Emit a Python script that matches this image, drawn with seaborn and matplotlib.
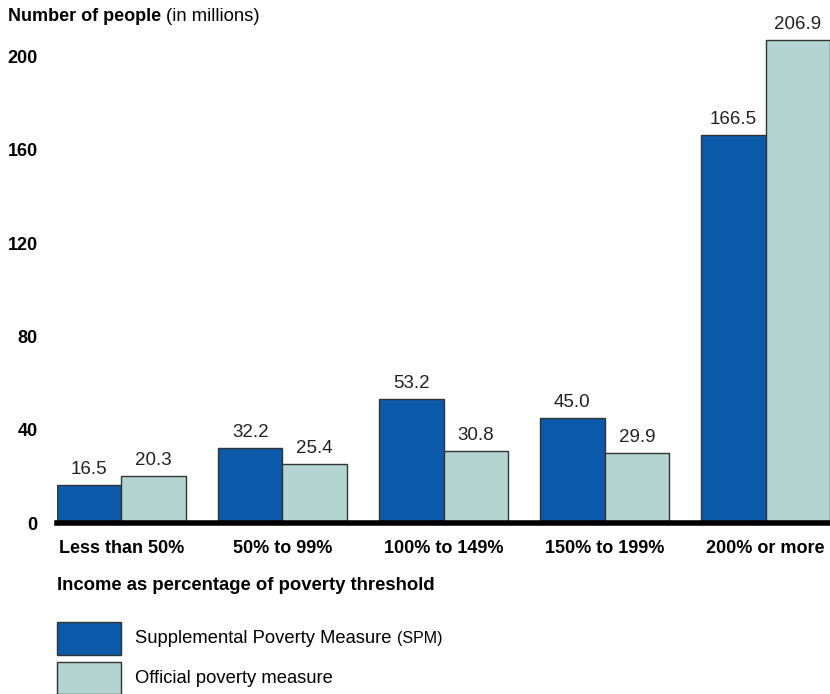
import matplotlib
matplotlib.use("Agg")
import matplotlib.pyplot as plt
from matplotlib.patches import Rectangle
import seaborn as sns
import pandas as pd

categories = ["Less than 50%", "50% to 99%", "100% to 149%", "150% to 199%", "200% or more"]
spm_values = [16.5, 32.2, 53.2, 45.0, 166.5]
official_values = [20.3, 25.4, 30.8, 29.9, 206.9]
series_names = ["Supplemental Poverty Measure", "Official poverty measure"]
y_ticks = [0, 40, 80, 120, 160, 200]

SPM_COLOR = "#0B5AAA"
OFF_COLOR = "#B3D4D1"
EDGE = "#333333"
FS = 13

sns.set_theme(style="white")
plt.rcParams["font.family"] = ["Liberation Sans", "DejaVu Sans"]
plt.rcParams["text.color"] = "black"
plt.rcParams["xtick.color"] = "black"
plt.rcParams["ytick.color"] = "black"

df = pd.DataFrame({
    "category": categories * 2,
    "value": spm_values + official_values,
    "measure": [series_names[0]] * len(categories) + [series_names[1]] * len(categories),
})

W, H = 830, 694
fig = plt.figure(figsize=(W / 100, H / 100), dpi=100)
ax = fig.add_axes([57 / W, (H - 523) / H, (W - 57) / W, (523 - 33) / H])

sns.barplot(
    data=df, x="category", y="value", hue="measure", order=categories,
    hue_order=series_names, palette=[SPM_COLOR, OFF_COLOR],
    edgecolor=EDGE, linewidth=1.0, width=0.8, saturation=1, ax=ax,
    legend=False,
)

for cont in ax.containers:
    ax.bar_label(cont, fmt="%.1f", padding=5, fontsize=13.5, color="#222222",
                 clip_on=False)

ax.set_xlim(-0.4, len(categories) - 0.6)
ax.set_ylim(0, 210)
ax.set_yticks(y_ticks)
ax.set_yticklabels([str(t) for t in y_ticks], fontsize=FS, fontweight="bold")
ax.tick_params(axis="y", length=0, pad=14)
ax.tick_params(axis="x", length=0, pad=12, labelsize=FS)
for lbl in ax.get_xticklabels():
    lbl.set_fontweight("bold")
ax.set_xlabel("")
ax.set_ylabel("")
for side in ["top", "right", "left"]:
    ax.spines[side].set_visible(False)
ax.spines["bottom"].set_linewidth(4)
ax.spines["bottom"].set_color("black")
ax.spines["bottom"].set_zorder(5)

# Axis titles
fig.canvas.draw()
renderer = fig.canvas.get_renderer()
t1 = fig.text(8 / W, 1 - 21 / H, "Number of people", fontsize=FS, fontweight="bold",
              va="baseline", ha="left")
bb = t1.get_window_extent(renderer)
fig.text((bb.x1 + 5) / W, 1 - 21 / H, "(in millions)", fontsize=13.3,
         va="baseline", ha="left")

fig.text(57 / W, 1 - 590 / H, "Income as percentage of poverty threshold",
         fontsize=13.3, fontweight="bold", va="baseline", ha="left")

# Legend
legend_rows = [(622, 655, SPM_COLOR), (662, 694, OFF_COLOR)]
for (top, bot, col) in legend_rows:
    fig.patches.append(Rectangle((57 / W, 1 - bot / H), 64 / W, (bot - top) / H,
                                 transform=fig.transFigure, facecolor=col,
                                 edgecolor=EDGE, linewidth=1.0))
t2 = fig.text(135 / W, 1 - 643 / H, "Supplemental Poverty Measure", fontsize=13.2,
              va="baseline", ha="left")
bb2 = t2.get_window_extent(renderer)
fig.text((bb2.x1 + 5) / W, 1 - 643 / H, "(SPM)", fontsize=11.5, va="baseline", ha="left")
fig.text(135 / W, 1 - 683 / H, "Official poverty measure", fontsize=13.2,
         va="baseline", ha="left")

fig.savefig("out.png", dpi=100)
